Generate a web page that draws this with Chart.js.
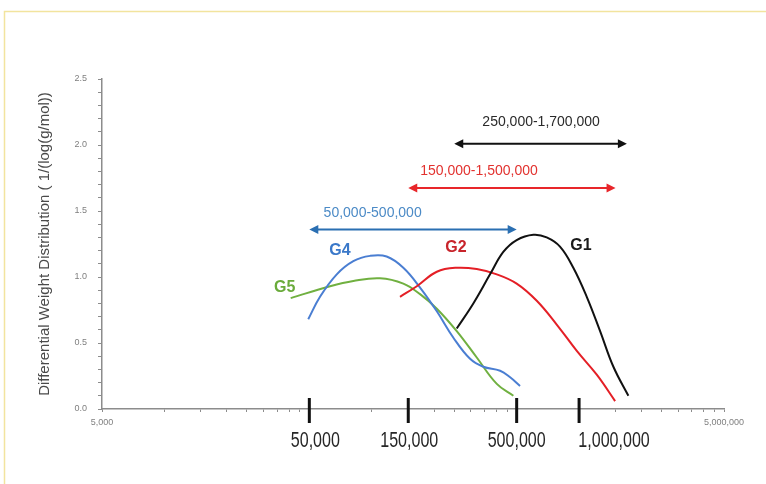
<!DOCTYPE html>
<html>
<head>
<meta charset="utf-8">
<script src="https://cdn.jsdelivr.net/npm/chart.js@4.4.0/dist/chart.umd.min.js"></script>
<style>
html,body{margin:0;padding:0;background:#fff;}
</style>
</head>
<body>
<canvas id="grafica" width="766" height="484"></canvas>
<script>
// molar mass (g/mol) vs differential weight distribution for each sample
const g1Mass = [257000, 309000, 372000, 431000, 500000, 602000, 698000, 809000, 938000, 1089000, 1263000, 1464000, 1729000];
const g1Dist = [0.61, 0.80, 1.02, 1.19, 1.28, 1.32, 1.30, 1.23, 1.07, 0.85, 0.59, 0.32, 0.10];

const g2Mass = [136900, 164900, 206000, 257000, 321000, 401000, 500000, 625000, 780000, 975000, 1217000, 1492000];
const g2Dist = [0.85, 0.93, 1.04, 1.07, 1.06, 1.02, 0.95, 0.82, 0.64, 0.44, 0.26, 0.06];

const g4Mass = [49400, 56300, 67800, 81500, 98200, 118000, 142000, 171000, 206000, 247600, 298000, 345000, 416000, 465000, 519000];
const g4Dist = [0.68, 0.85, 1.02, 1.12, 1.16, 1.155, 1.07, 0.92, 0.74, 0.54, 0.38, 0.32, 0.29, 0.24, 0.175];

const g5Mass = [40650, 62950, 81500, 109600, 142000, 171000, 206000, 257000, 321000, 401000, 482000];
const g5Dist = [0.84, 0.93, 0.97, 0.99, 0.95, 0.87, 0.76, 0.59, 0.39, 0.19, 0.10];

// mass ranges shown with double arrows (G1, G2, G4)
const rangeText = ['250,000-1,700,000', '150,000-1,500,000', '50,000-500,000'];
const rangeLow = [250000, 150000, 50000];
const rangeHigh = [1700000, 1500000, 500000];
const rangeLevel = [2.01, 1.675, 1.36];
const rangeTextAt = [[656000, 2.17], [329000, 1.80], [101000, 1.48]];

// curve names and where they sit
const names = ['G1', 'G2', 'G4', 'G5'];
const nameAt = [[1022000, 1.24], [255000, 1.22], [70300, 1.20], [38000, 0.92]];

// axis ticks
const xMin = 5000, xMax = 5000000;
const xEndTicks = [5000, 5000000];
const xEndLabels = ['5,000', '5,000,000'];
const bigTicks = [50000, 150000, 500000, 1000000];
const bigTickLabels = ['50,000', '150,000', '500,000', '1,000,000'];
const yMajor = [0, 0.5, 1.0, 1.5, 2.0, 2.5];

const lineColors = ['#111111', '#e41f26', '#4a7ed2', '#70b040'];
const nameColors = ['#1a1a1a', '#c8242b', '#3a78c9', '#6aab3b'];
const arrowColors = ['#111111', '#e8262a', '#2a6fb2'];
const rangeTextColors = ['#2a2a2a', '#e2322f', '#4b8ac6'];
const labelShift = [6, 1, 0, 35];

function pts(xs, ys){
    return xs.map((v, i) => ({x: v, y: ys[i]}));
}

// minor ticks on the log axis: n * 5000 * 10^k
let xTicks = [];
for(let k = 0; k < 3; k++){
    const base = xMin * Math.pow(10, k);
    for(let n = 1; n <= 9; n++) xTicks.push(n * base);
}
xTicks.push(xMax);

let yTicks = [];
for(let i = 0; i <= 25; i++) yTicks.push(i / 10);

function arrowHead(c, x, y, dir){
    c.beginPath();
    c.moveTo(x, y);
    c.lineTo(x + dir * 9, y - 4.5);
    c.lineTo(x + dir * 9, y + 4.5);
    c.closePath();
    c.fill();
}

const extras = {
    id: 'extras',
    beforeDraw(chart){
        const c = chart.ctx;
        c.save();
        c.fillStyle = '#fff';
        c.fillRect(0, 0, chart.width, chart.height);
        c.strokeStyle = '#f2e49e';
        c.lineWidth = 1.5;
        c.beginPath();
        c.moveTo(4.5, chart.height);
        c.lineTo(4.5, 11.5);
        c.lineTo(chart.width, 11.5);
        c.stroke();
        c.restore();
    },
    afterDatasetsDraw(chart){
        const c = chart.ctx, xs = chart.scales.x, ys = chart.scales.y;
        const y0 = ys.getPixelForValue(0);
        c.save();

        // small labels at both ends of the mass axis
        c.font = '9px "Liberation Sans", Arial, sans-serif';
        c.fillStyle = '#7f7f7f';
        c.textAlign = 'center';
        c.textBaseline = 'middle';
        xEndTicks.forEach((v, i) => {
            c.fillText(xEndLabels[i], xs.getPixelForValue(v), y0 + 14);
        });

        // heavy ticks with big labels
        bigTicks.forEach((v, i) => {
            const px = xs.getPixelForValue(v);
            c.strokeStyle = '#111';
            c.lineWidth = 3;
            c.beginPath();
            c.moveTo(px, y0 - 11);
            c.lineTo(px, y0 + 14);
            c.stroke();
            c.save();
            c.translate(px + labelShift[i], y0 + 38);
            c.scale(0.73, 1);
            c.font = '22px "Liberation Sans", Arial, sans-serif';
            c.textAlign = 'center';
            c.textBaseline = 'alphabetic';
            c.fillStyle = '#262626';
            c.fillText(bigTickLabels[i], 0, 0);
            c.restore();
        });

        // range arrows
        rangeText.forEach((t, i) => {
            const x1 = xs.getPixelForValue(rangeLow[i]);
            const x2 = xs.getPixelForValue(rangeHigh[i]);
            const py = ys.getPixelForValue(rangeLevel[i]);
            c.strokeStyle = arrowColors[i];
            c.fillStyle = arrowColors[i];
            c.lineWidth = 2;
            c.beginPath();
            c.moveTo(x1 + 5, py);
            c.lineTo(x2 - 5, py);
            c.stroke();
            arrowHead(c, x1, py, 1);
            arrowHead(c, x2, py, -1);
            c.font = '14px "Liberation Sans", Arial, sans-serif';
            c.textAlign = 'center';
            c.textBaseline = 'middle';
            c.fillStyle = rangeTextColors[i];
            c.fillText(t, xs.getPixelForValue(rangeTextAt[i][0]), ys.getPixelForValue(rangeTextAt[i][1]));
        });

        // curve names
        names.forEach((n, i) => {
            c.font = 'bold 16px "Liberation Sans", Arial, sans-serif';
            c.textAlign = 'center';
            c.textBaseline = 'middle';
            c.fillStyle = nameColors[i];
            c.fillText(n, xs.getPixelForValue(nameAt[i][0]), ys.getPixelForValue(nameAt[i][1]));
        });
        c.restore();
    }
};

const series = [[g1Mass, g1Dist], [g2Mass, g2Dist], [g4Mass, g4Dist], [g5Mass, g5Dist]];

new Chart(document.getElementById('grafica').getContext('2d'), {
    type: 'line',
    data: {
        datasets: series.map((s, i) => ({
            label: names[i],
            data: pts(s[0], s[1]),
            borderColor: lineColors[i],
            backgroundColor: lineColors[i],
            borderWidth: 2,
            pointRadius: 0,
            tension: 0.4,
            fill: false
        }))
    },
    options: {
        responsive: false,
        animation: false,
        layout: {padding: {left: 0, top: 79, right: 42, bottom: 75}},
        plugins: {legend: {display: false}, tooltip: {enabled: false}},
        scales: {
            x: {
                type: 'logarithmic',
                min: xMin,
                max: xMax,
                afterBuildTicks: s => { s.ticks = xTicks.map(v => ({value: v})); },
                afterFit: s => { s.height = 0; },
                ticks: {
                    autoSkip: false,
                    maxRotation: 0,
                    callback: () => ''
                },
                grid: {drawOnChartArea: false, tickLength: 3, color: '#8c8c8c', lineWidth: 1},
                border: {color: '#8c8c8c', width: 1.5}
            },
            y: {
                min: 0,
                max: 2.5,
                afterBuildTicks: s => { s.ticks = yTicks.map(v => ({value: v})); },
                afterFit: s => { s.width = 102; },
                ticks: {
                    autoSkip: false,
                    padding: 11,
                    color: '#7f7f7f',
                    font: {size: 9, family: '"Liberation Sans", Arial, sans-serif'},
                    callback: v => {
                        const m = yMajor.find(t => Math.abs(t - v) < 1e-6);
                        return m === undefined ? '' : m.toFixed(1);
                    }
                },
                grid: {drawOnChartArea: false, tickLength: 4, color: '#8c8c8c', lineWidth: 1},
                border: {color: '#8c8c8c', width: 1.5},
                title: {
                    display: true,
                    text: 'Differential Weight Distribution ( 1/(log(g/mol))',
                    color: '#4a4a4a',
                    font: {size: 15, family: '"Liberation Sans", Arial, sans-serif'},
                    padding: {top: 36, bottom: 0}
                }
            }
        }
    },
    plugins: [extras]
});
</script>
</body>
</html>
